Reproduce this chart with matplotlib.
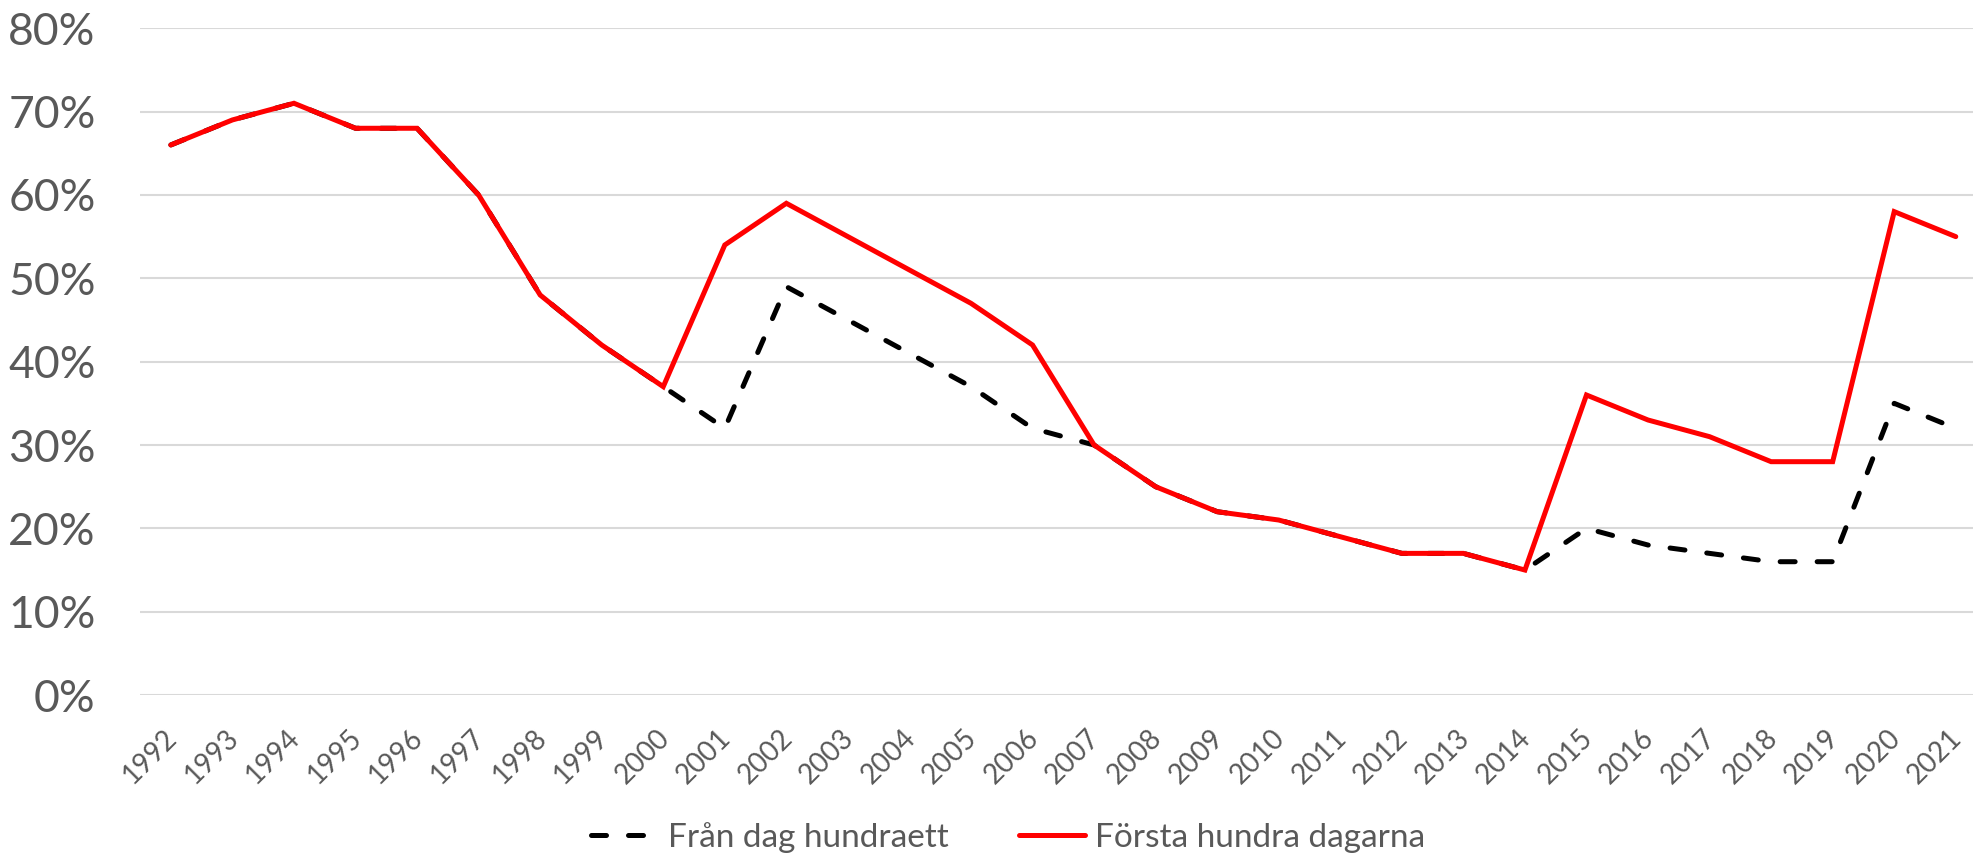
import matplotlib
matplotlib.use("Agg")
import matplotlib.pyplot as plt
from matplotlib.transforms import ScaledTranslation
from matplotlib.ticker import PercentFormatter

years = list(range(1992, 2022))
forsta_hundra = [66, 69, 71, 68, 68, 60, 48, 42, 37, 54, 59, 55, 51, 47, 42, 30,
                 25, 22, 21, 19, 17, 17, 15, 36, 33, 31, 28, 28, 58, 55]
fran_dag_hundraett = [66, 69, 71, 68, 68, 60, 48, 42, 37, 32, 49, 45, 41, 37, 32, 30,
                      25, 22, 21, 19, 17, 17, 15, 20, 18, 17, 16, 16, 35, 32]
label_black = "Från dag hundraett"
label_red = "Första hundra dagarna"

plt.rcParams['font.family'] = ['Lato', 'DejaVu Sans']
grey = '#595959'

fig = plt.figure(figsize=(19.73, 8.56), dpi=100)
ax = fig.add_axes([0.071, 0.188, 0.929, 0.779])

x = list(range(len(years)))
ax.plot(x, fran_dag_hundraett, color='black', lw=3.6, dashes=(3.0, 4.4),
        dash_capstyle='round', solid_capstyle='round', label=label_black, zorder=2)
ax.plot(x, forsta_hundra, color='#ff0000', lw=3.6, solid_capstyle='round',
        solid_joinstyle='miter', label=label_red, zorder=3)

ax.set_ylim(0, 80)
ax.set_yticks(range(0, 81, 10))
ax.yaxis.set_major_formatter(PercentFormatter(decimals=0))
ax.set_xlim(-0.5, 29.28)
ax.set_xticks(x)
ax.set_xticklabels([str(y) for y in years], rotation=45, ha='right', va='center',
                   rotation_mode='anchor')
ax.grid(axis='y', color='#d9d9d9', lw=1.5, zorder=0)
ax.set_axisbelow(True)
for s in ax.spines.values():
    s.set_visible(False)
ax.tick_params(axis='y', length=0, pad=32, labelsize=32, labelcolor=grey)
ax.tick_params(axis='x', length=0, pad=28, labelsize=20, labelcolor=grey)
off = ScaledTranslation(0.02, 0, fig.dpi_scale_trans)
for lab in ax.get_xticklabels():
    lab.set_transform(lab.get_transform() + off)

leg = fig.legend(loc='center', bbox_to_anchor=(0.511, 0.022), ncol=2, frameon=False,
                 fontsize=24, handlelength=2.0, handletextpad=0.3, columnspacing=2.1,
                 borderpad=0, borderaxespad=0)
for t in leg.get_texts():
    t.set_color(grey)

fig.savefig('out.png', dpi=100)
